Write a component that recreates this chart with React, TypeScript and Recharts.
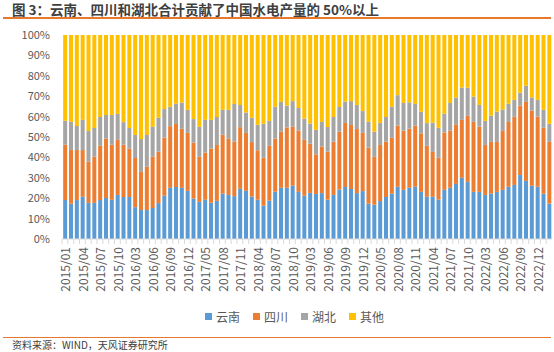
import React from 'react';
import { BarChart, Bar, XAxis, YAxis, Legend } from 'recharts';

const categories = [
  '2015/01','2015/02','2015/03','2015/04','2015/05','2015/06','2015/07','2015/08','2015/09','2015/10','2015/11','2015/12',
  '2016/03','2016/04','2016/05','2016/06','2016/07','2016/08','2016/09','2016/10','2016/11','2016/12',
  '2017/03','2017/04','2017/05','2017/06','2017/07','2017/08','2017/09','2017/10','2017/11','2017/12',
  '2018/03','2018/04','2018/05','2018/06','2018/07','2018/08','2018/09','2018/10','2018/11','2018/12',
  '2019/03','2019/04','2019/05','2019/06','2019/07','2019/08','2019/09','2019/10','2019/11','2019/12',
  '2020/03','2020/04','2020/05','2020/06','2020/07','2020/08','2020/09','2020/10','2020/11','2020/12',
  '2021/03','2021/04','2021/05','2021/06','2021/07','2021/08','2021/09','2021/10','2021/11','2021/12',
  '2022/03','2022/04','2022/05','2022/06','2022/07','2022/08','2022/09','2022/10','2022/11','2022/12',
  '2023/03','2023/04',
];

const yunnan = [
  19.1,17.3,19.1,20.7,17.7,17.7,19.1,20.1,19.2,21.6,20.6,20.6,
  15.6,14.2,14.2,15.2,17.6,21.2,25.1,25.5,25.1,23.6,
  19.8,18.2,19.2,17.8,18.7,22.2,21.6,21.0,24.6,23.6,
  20.8,19.2,16.3,18.8,23.2,25.1,25.1,26.1,23.1,21.2,
  22.6,22.1,22.5,19.3,21.6,24.2,25.5,24.5,22.5,23.5,
  17.3,16.8,18.6,20.6,22.2,25.6,24.1,25.1,25.6,23.1,
  20.7,20.7,19.3,24.1,25.1,27.0,30.0,28.0,23.1,23.1,
  21.6,22.2,23.1,24.1,25.6,26.5,31.4,28.5,26.1,25.6,
  22.2,17.4,
];

const sichuan = [
  27.1,26.3,24.5,22.9,20.2,22.7,26.6,29.1,27.0,27.0,25.6,23.7,
  24.1,18.7,21.2,25.2,25.2,28.5,30.2,30.9,28.9,28.4,
  27.4,22.1,23.2,26.5,27.4,28.9,27.5,26.7,30.2,28.4,
  26.7,24.3,23.5,26.9,26.0,27.5,29.6,28.9,30.0,27.4,
  24.1,19.4,22.8,23.5,26.1,28.4,31.4,31.4,31.4,28.5,
  27.5,23.5,27.5,27.1,27.4,30.0,29.0,29.0,30.0,28.7,
  25.0,22.0,20.5,28.1,28.0,29.2,28.4,32.4,34.3,32.0,
  24.5,25.4,24.5,28.9,31.8,33.4,34.0,38.7,36.8,34.4,
  32.3,30.2,
];

const hubei = [
  11.8,13.8,11.8,14.8,15.0,14.0,14.1,11.6,14.6,12.7,11.1,10.1,
  11.3,16.1,15.6,14.6,16.6,14.0,9.5,9.9,12.8,11.3,
  11.6,14.7,16.0,14.1,13.7,12.2,14.2,18.5,10.9,10.0,
  11.9,12.5,16.7,12.2,15.6,14.6,10.7,12.6,11.1,10.4,
  9.9,12.0,12.1,12.1,12.1,12.1,10.4,11.7,11.8,10.7,
  12.7,12.3,10.8,12.1,15.2,14.9,13.6,12.9,10.6,10.6,
  11.1,14.3,14.7,9.2,13.6,13.1,15.8,13.8,12.4,10.6,
  11.8,12.9,14.8,10.5,8.9,8.3,6.3,7.9,6.5,8.2,
  8.8,8.9,
];

const others = [
  42.0,42.6,44.6,41.6,47.1,45.6,40.2,39.2,39.2,38.7,42.7,45.6,
  49.0,51.0,49.0,45.0,40.6,36.3,35.2,33.7,33.2,36.7,
  41.2,45.0,41.6,41.6,40.2,36.7,36.7,33.8,34.3,38.0,
  40.6,44.0,43.5,42.1,35.2,32.8,34.6,32.4,35.8,41.0,
  43.4,46.5,42.6,45.1,40.2,35.3,32.7,32.4,34.3,37.3,
  42.5,47.4,43.1,40.2,35.2,29.5,33.3,33.0,33.8,37.6,
  43.2,43.0,45.5,38.6,33.3,30.7,25.8,25.8,30.2,34.3,
  42.1,39.5,37.6,36.5,33.7,31.8,28.3,24.9,30.6,31.8,
  36.7,43.5,
];

const seriesNames = ['云南', '四川', '湖北', '其他'];
const seriesColors = ['#5B9BD5', '#ED7D31', '#A5A5A5', '#FFC000'];
const seriesValues = [yunnan, sichuan, hubei, others];

const yTicks = [0, 0.1, 0.2, 0.3, 0.4, 0.5, 0.6, 0.7, 0.8, 0.9, 1];

const data = categories.map((month, i) => {
  const row: Record<string, any> = { month };
  seriesNames.forEach((name, s) => {
    row[name] = seriesValues[s][i];
  });
  return row;
});

const FONT = '"Noto Sans CJK SC", "Liberation Sans", sans-serif';

function XTick(props: any) {
  const { x, y, payload, index } = props;
  const half = payload && typeof payload.offset === 'number' && payload.offset > 0 ? payload.offset : 2.9;
  const axisY = y - 8;
  return (
    <g>
      <line x1={x - half} x2={x - half} y1={axisY} y2={axisY + 5} stroke="#D9D9D9" strokeWidth={1} />
      {index % 3 === 0 && (
        <text
          x={x}
          y={y}
          transform={`rotate(-90 ${x} ${y})`}
          textAnchor="end"
          dominantBaseline="central"
          fontSize={12}
          fill="#595959"
          fontFamily={FONT}
        >
          {payload.value}
        </text>
      )}
    </g>
  );
}

function LegendContent() {
  return (
    <div style={{ display: 'flex', alignItems: 'center', fontFamily: FONT, fontSize: 12, color: '#595959', lineHeight: '18px', whiteSpace: 'nowrap' }}>
      {seriesNames.map((n, i) => (
        <div key={n} style={{ display: 'flex', alignItems: 'center', marginRight: 13 }}>
          <span style={{ display: 'inline-block', width: 7, height: 7, background: seriesColors[i], marginRight: 4 }} />
          <span>{n}</span>
        </div>
      ))}
    </div>
  );
}

export default function App() {
  return (
    <div style={{ position: 'absolute', left: 0, top: 0, width: 554, height: 352, background: '#fff', fontFamily: FONT, overflow: 'hidden' }}>
      <div style={{ position: 'absolute', left: 12, top: 0, fontSize: 13.5, fontWeight: 'bold', color: '#404040', lineHeight: '18px', whiteSpace: 'nowrap' }}>
        图 3：云南、四川和湖北合计贡献了中国水电产量的 50%以上
      </div>
      <div style={{ position: 'absolute', left: 3, top: 17, width: 548, height: 2, background: '#E8782E' }} />
      <div style={{ position: 'absolute', left: 0, top: 0 }}>
        <BarChart
          width={554}
          height={352}
          data={data}
          stackOffset="expand"
          barCategoryGap="20%"
          margin={{ top: 35, right: 2, bottom: 53, left: 0 }}
        >
          <XAxis
            dataKey="month"
            interval={0}
            height={60}
            tick={<XTick />}
            tickLine={false}
            axisLine={{ stroke: '#D9D9D9' }}
          />
          <YAxis
            width={62}
            domain={[0, 1]}
            ticks={yTicks}
            tickFormatter={(v: number) => `${Math.round(v * 100)}%`}
            axisLine={false}
            tickLine={false}
            tickMargin={6}
            tick={{ fontSize: 11, fill: '#595959', fontFamily: FONT }}
          />
          <Legend
            verticalAlign="middle"
            align="center"
            layout="horizontal"
            wrapperStyle={{ top: 307.5, left: 205, width: 200, height: 18 }}
            content={<LegendContent />}
          />
          {seriesNames.map((n, i) => (
            <Bar key={n} dataKey={n} stackId="a" fill={seriesColors[i]} isAnimationActive={false} />
          ))}
        </BarChart>
      </div>
      <div style={{ position: 'absolute', left: 3, top: 336.5, width: 548, height: 1.5, background: '#E8782E' }} />
      <div style={{ position: 'absolute', left: 12, top: 338, fontSize: 10, color: '#404040', lineHeight: '14px', whiteSpace: 'nowrap' }}>
        资料来源：WIND，天风证券研究所
      </div>
    </div>
  );
}
